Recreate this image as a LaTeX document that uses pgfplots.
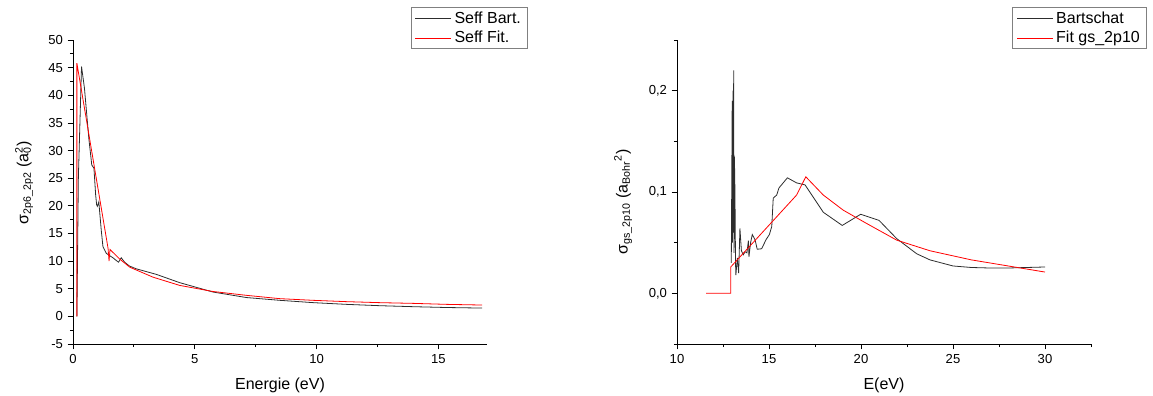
\documentclass[border=0pt]{standalone}
\usepackage{fontspec}
\setmainfont{Liberation Sans}
\usepackage{pgfplots}
\pgfplotsset{compat=1.18}
\definecolor{dgray}{RGB}{45,45,45}
\pgfplotsset{origin/.style={
  scale only axis, width=310.5pt, height=228pt,
  axis lines*=left, axis line style={black, line width=0.7pt},
  tick align=outside, major tick length=4pt, minor tick length=2.3pt,
  every tick/.style={black, line width=0.6pt},
  tick label style={font=\fontsize{9.8}{11}\selectfont},
  label style={font=\fontsize{12}{14}\selectfont},
  enlargelimits=false, clip=false,
  legend cell align=left,
  legend style={anchor=north east, draw=gray, line width=0.6pt,
    font=\fontsize{12}{14}\selectfont, inner xsep=3pt, inner ysep=1pt, row sep=0.5pt},
  legend image code/.code={\draw[#1] (0pt,0pt) -- (27pt,0pt);},
}}
\begin{document}
\begin{tikzpicture}
\path[use as bounding box] (0,0) rectangle (864.75pt,297pt);
\begin{axis}[origin, at={(54.75pt,39pt)}, anchor=south west,
  xmin=0, xmax=17, ymin=-5, ymax=50,
  xtick={0,5,10,15}, xticklabels={0,5,10,15},
  minor xtick={2.5,7.5,12.5},
  ytick={-5,0,5,10,15,20,25,30,35,40,45,50},
  yticklabels={-5,0,5,10,15,20,25,30,35,40,45,50},
  minor ytick={-2.5,2.5,7.5,12.5,17.5,22.5,27.5,32.5,37.5,42.5,47.5},
  xlabel={Energie (eV)},
  xlabel style={at={(axis description cs:0.5,-0.135)}, anchor=center},
  ylabel={σ\textsubscript{2p6\_2p2} (a\rlap{\textsubscript{0}}\textsuperscript{2})},
  ylabel style={at={(axis description cs:-0.118,0.53)}, anchor=center},
  legend style={at={(axis description cs:1.099,1.108)}},
]
\addplot[dgray, line width=0.6pt] coordinates {
(0.16,0) (0.22,25) (0.35,45.2) (0.47,41.3) (0.65,32.2) (0.77,27.4) (0.86,26.8)
(0.93,22.0) (0.97,20.2) (1.00,19.9) (1.06,20.7) (1.16,15.6) (1.23,12.6) (1.37,11.4)
(1.50,11.0) (1.64,10.6) (1.78,10.1) (1.87,9.8) (1.98,10.6) (2.12,9.8) (2.32,9.1)
(2.60,8.6) (3.42,7.6) (4.38,6.1) (5.75,4.4) (7.13,3.4) (8.5,2.9) (9.87,2.48)
(11.24,2.17) (12.6,1.93) (13.98,1.75) (15.36,1.6) (16.8,1.5)
};
\addlegendentry{Seff Bart.}
\addplot[red, line width=0.6pt] coordinates {
(0.16,0) (0.16,45.8) (1.44,12.3) (1.48,10.0) (1.52,12.1) (1.91,10.4) (2.33,8.9)
(3.28,7.1) (4.38,5.6) (5.75,4.5) (7.13,3.8) (8.5,3.2) (9.87,2.9) (11.24,2.66)
(12.6,2.48) (13.98,2.35) (15.36,2.17) (16.8,2.05)
};
\addlegendentry{Seff Fit.}
\end{axis}
\begin{axis}[origin, at={(507.75pt,39pt)}, anchor=south west,
  xmin=10, xmax=32.5, ymin=-0.05, ymax=0.25,
  xtick={10,15,20,25,30}, xticklabels={10,15,20,25,30},
  minor xtick={12.5,17.5,22.5,27.5,32.5},
  ytick={0,0.1,0.2}, yticklabels={{0,0},{0,1},{0,2}},
  minor ytick={-0.05,0.05,0.15,0.25},
  xlabel={E(eV)},
  xlabel style={at={(axis description cs:0.5,-0.135)}, anchor=center},
  ylabel={σ\textsubscript{gs\_2p10} (a\textsubscript{Bohr}\textsuperscript{2})},
  ylabel style={at={(axis description cs:-0.13,0.467)}, anchor=center},
  legend style={at={(axis description cs:1.135,1.108)}},
]
\addplot[dgray, line width=0.6pt] coordinates {
(12.95,0.03) (13.0,0.19) (13.02,0.05) (13.04,0.20) (13.06,0.06) (13.08,0.22)
(13.1,0.04) (13.12,0.135) (13.15,0.10) (13.18,0.03) (13.2,0.018) (13.28,0.035)
(13.35,0.02) (13.42,0.064) (13.5,0.042) (13.6,0.038) (13.7,0.041) (13.8,0.04)
(13.88,0.052) (13.91,0.036) (14.0,0.05) (14.09,0.058) (14.24,0.053) (14.36,0.0435)
(14.6,0.044) (14.84,0.053) (15.02,0.058) (15.15,0.066) (15.23,0.094) (15.42,0.097)
(15.54,0.104) (16.0,0.114) (16.5,0.109) (16.96,0.107) (17.95,0.080) (18.98,0.067)
(19.98,0.078) (20.98,0.072) (21.94,0.054) (23.03,0.039) (23.75,0.033) (25,0.027)
(26,0.0255) (27,0.025) (28,0.025) (29,0.0255) (30,0.026)
};
\addlegendentry{Bartschat}
\addplot[red, line width=0.6pt] coordinates {
(11.58,0) (12.92,0) (12.92,0.026) (16.5,0.097) (17.0,0.115) (17.95,0.097)
(19.04,0.082) (20.3,0.069) (21.94,0.0525) (23.75,0.042) (25,0.037) (26,0.033)
(27,0.030) (28,0.027) (29,0.024) (30,0.021)
};
\addlegendentry{Fit gs\_2p10}
\end{axis}
\end{tikzpicture}
\end{document}
